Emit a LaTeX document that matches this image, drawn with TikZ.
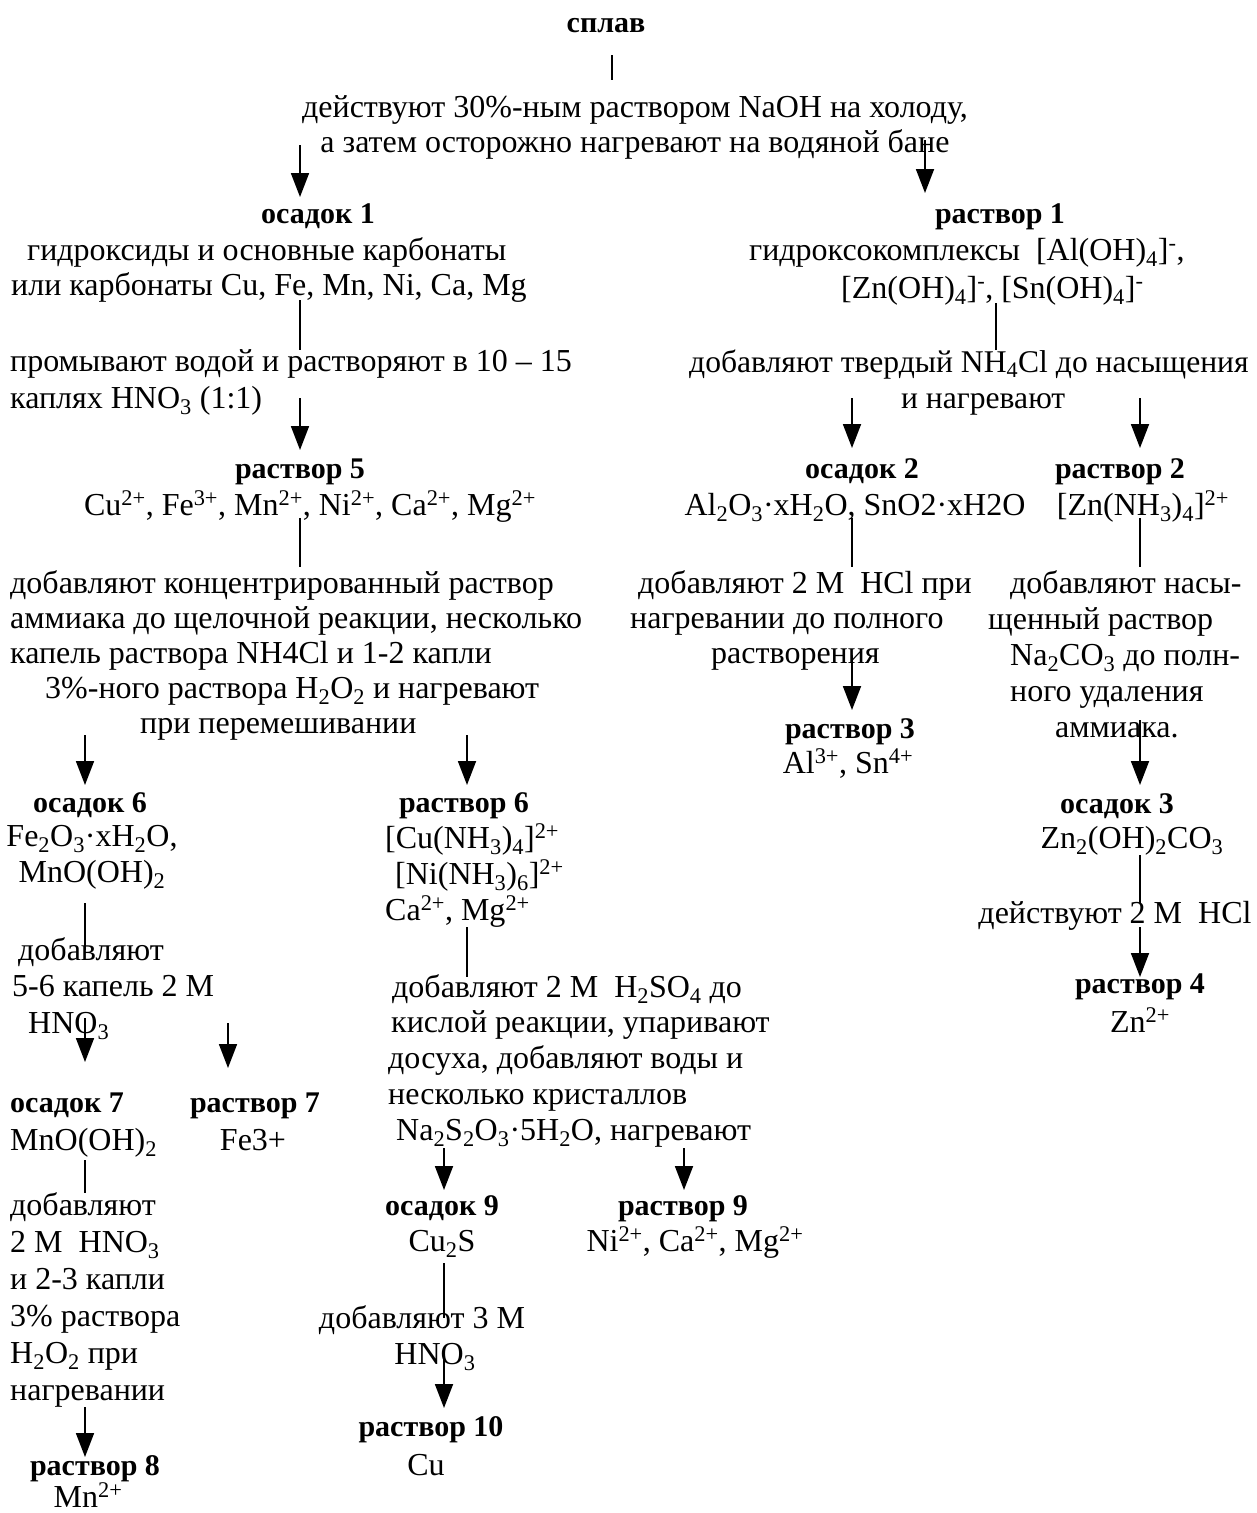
\documentclass[tikz,border=0pt]{standalone}
\usepackage{fontspec}
\setmainfont{Liberation Serif}
\usetikzlibrary{arrows.meta}
\newcommand{\ssub}[1]{\textsubscript{#1}}
\newcommand{\ssup}[1]{\textsuperscript{#1}}

\begin{document}
\begin{tikzpicture}[x=1pt,y=-1pt,
    every node/.style={inner sep=0pt,anchor=base,font=\fontsize{32}{35}\selectfont},
    head/.style={font=\fontsize{30}{35}\selectfont\bfseries},
    arr/.style={line width=1.8pt,-{Triangle[length=24pt,width=18pt]}},
    stem/.style={line width=1.8pt}]
  \useasboundingbox (0,0) rectangle (1256,1513);

  % columns of the connectors
  \coordinate (colL) at (85,0);
  \coordinate (colR7) at (228,0);
  \coordinate (colM) at (300,0);
  \coordinate (colS9) at (444,0);
  \coordinate (colR6) at (467,0);
  \coordinate (colTop) at (612,0);
  \coordinate (colR9) at (684,0);
  \coordinate (colO2) at (852,0);
  \coordinate (colR1) at (925,0);
  \coordinate (colR1t) at (996,0);
  \coordinate (colZn) at (1140,0);

  % top (multi-line nodes sit on their last line)
  \node[head] (splav) at (606,32) {сплав};
  \node[align=center] (t1) at (635,152) {действуют 30\%-ным раствором NaOH на холоду,\\
    а затем осторожно нагревают на водяной бане};

  % left branch
  \node[head] (os1) at (318,223) {осадок 1};
  \node[align=left,anchor=base west] (os1t) at (11,295) {\hspace*{16pt}гидроксиды и основные карбонаты\\
    или карбонаты Cu, Fe, Mn, Ni, Ca, Mg};
  \node[align=left,anchor=base west,font=\fontsize{32}{37}\selectfont] (step2) at (10,408) {промывают водой и растворяют в 10 – 15\\
    каплях HNO\ssub{3} (1:1)};
  \node[head] (r5) at (300,478) {раствор 5};
  \node (r5t) at (310,515) {Cu\ssup{2+}, Fe\ssup{3+}, Mn\ssup{2+}, Ni\ssup{2+}, Ca\ssup{2+}, Mg\ssup{2+}};
  \node[align=left,anchor=base west] (step4) at (10,733) {добавляют концентрированный раствор\\
    аммиака до щелочной реакции, несколько\\
    капель раствора NH4Cl и 1-2 капли\\
    \hspace*{35pt}3\%-ного раствора H\ssub{2}O\ssub{2} и нагревают\\
    \hspace*{130pt}при перемешивании};

  \node[head] (os6) at (90,812) {осадок 6};
  \node[align=center,font=\fontsize{32}{36}\selectfont] (os6t) at (92,882) {Fe\ssub{2}O\ssub{3}·xH\ssub{2}O,\\ MnO(OH)\ssub{2}};
  \node[align=left,anchor=base west,font=\fontsize{32}{36.5}\selectfont] (step8) at (12,1033) {\hspace*{6pt}добавляют\\
    5-6 капель 2 М\\
    \hspace*{16pt}HNO\ssub{3}};
  \node[head,anchor=base west] (os7) at (10,1112) {осадок 7};
  \node[anchor=base west] (os7t) at (10,1150) {MnO(OH)\ssub{2}};
  \node[head] (r7) at (255,1112) {раствор 7};
  \node (r7t) at (253,1150) {Fe3+};
  \node[align=left,anchor=base west,font=\fontsize{32}{37}\selectfont] (step10) at (10,1400) {добавляют\\
    2 М\ \ HNO\ssub{3}\\
    и 2-3 капли\\
    3\% раствора\\
    H\ssub{2}O\ssub{2} при\\
    нагревании};
  \node[head] (r8) at (95,1475) {раствор 8};
  \node (r8t) at (88,1507) {Mn\ssup{2+}};

  \node[head] (r6) at (464,812) {раствор 6};
  \node[align=left,anchor=base west,font=\fontsize{32}{36}\selectfont] (r6t) at (385,920) {[Cu(NH\ssub{3})\ssub{4}]\ssup{2+}\\
    \hspace*{10pt}[Ni(NH\ssub{3})\ssub{6}]\ssup{2+}\\
    Ca\ssup{2+}, Mg\ssup{2+}};
  \node[align=left,anchor=base west,font=\fontsize{32}{35.75}\selectfont] (step9) at (388,1140) {\hspace*{4pt}добавляют 2 М\ \ H\ssub{2}SO\ssub{4} до\\
    \hspace*{3pt}кислой реакции, упаривают\\
    досуха, добавляют воды и\\
    несколько кристаллов\\
    \hspace*{8pt}Na\ssub{2}S\ssub{2}O\ssub{3}·5H\ssub{2}O, нагревают};
  \node[head] (os9) at (442,1215) {осадок 9};
  \node (os9t) at (442,1251) {Cu\ssub{2}S};
  \node[head] (r9) at (683,1215) {раствор 9};
  \node (r9t) at (695,1251) {Ni\ssup{2+}, Ca\ssup{2+}, Mg\ssup{2+}};
  \node[align=center,font=\fontsize{32}{36}\selectfont] (step11) at (422,1364) {добавляют 3 М\\ \hspace*{26pt}HNO\ssub{3}};
  \node[head] (r10) at (431,1436) {раствор 10};
  \node (r10t) at (426,1475) {Cu};

  % right branch
  \node[head] (r1) at (1000,223) {раствор 1};
  \node[align=left,anchor=base west,font=\fontsize{32}{38}\selectfont] (r1t) at (749,298) {гидроксокомплексы\ \ [Al(OH)\ssub{4}]\ssup{-},\\
    \hspace*{92pt}[Zn(OH)\ssub{4}]\ssup{-}, [Sn(OH)\ssub{4}]\ssup{-}};
  \node[align=left,anchor=base west,font=\fontsize{31.6}{36}\selectfont] (step3) at (689,408) {добавляют твердый NH\ssub{4}Cl до насыщения\\
    \hspace*{212pt}и нагревают};
  \node[head] (os2) at (862,478) {осадок 2};
  \node (os2t) at (855,515) {Al\ssub{2}O\ssub{3}·xH\ssub{2}O, SnO2·xH2O};
  \node[align=left,anchor=base west] (step5) at (630,663) {\hspace*{8pt}добавляют 2 М\ \ HCl при\\
    нагревании до полного\\
    \hspace*{81pt}растворения};
  \node[head] (r3) at (850,738) {раствор 3};
  \node (r3t) at (848,773) {Al\ssup{3+}, Sn\ssup{4+}};
  \node[head] (r2) at (1120,478) {раствор 2};
  \node (r2t) at (1143,515) {[Zn(NH\ssub{3})\ssub{4}]\ssup{2+}};
  \node[align=left,anchor=base west,font=\fontsize{32}{36}\selectfont] (step6) at (988,737) {\hspace*{22pt}добавляют насы-\\
    щенный раствор\\
    \hspace*{22pt}Na\ssub{2}CO\ssub{3} до полн-\\
    \hspace*{22pt}ного удаления\\
    \hspace*{67pt}аммиака.};
  \node[head] (os3) at (1117,813) {осадок 3};
  \node (os3t) at (1132,848) {Zn\ssub{2}(OH)\ssub{2}CO\ssub{3}};
  \node (step7) at (1115,923) {действуют 2 М\ \ HCl};
  \node[head] (r4) at (1140,993) {раствор 4};
  \node (r4t) at (1140,1032) {Zn\ssup{2+}};

  % connectors
  \draw[stem,shorten <=23pt,shorten >=72pt] (splav.base -| colTop) -- (t1.base -| colTop);
  \draw[arr,shorten <=-7pt,shorten >=26pt] (t1.base -| colM) -- (os1.base -| colM);
  \draw[arr,shorten <=-12pt,shorten >=30pt] (t1.base -| colR1) -- (r1.base -| colR1);
  \draw[stem,shorten <=5pt,shorten >=58pt] (os1t.base -| colM) -- (step2.base -| colM);
  \draw[arr,shorten <=-10pt,shorten >=28pt] (step2.base -| colM) -- (r5.base -| colM);
  \draw[stem,shorten <=5pt,shorten >=58pt] (r1t.base -| colR1t) -- (step3.base -| colR1t);
  \draw[arr,shorten <=-10pt,shorten >=30pt] (step3.base -| colO2) -- (os2.base -| colO2);
  \draw[arr,shorten <=-10pt,shorten >=30pt] (step3.base -| colZn) -- (r2.base -| colZn);
  \draw[stem,shorten <=3pt,shorten >=166pt] (r5t.base -| colM) -- (step4.base -| colM);
  \draw[stem,shorten <=3pt,shorten >=96pt] (os2t.base -| colO2) -- (step5.base -| colO2);
  \draw[stem,shorten <=3pt,shorten >=170pt] (r2t.base -| colZn) -- (step6.base -| colZn);
  \draw[arr,shorten <=2pt,shorten >=27pt] (step4.base -| colL) -- (os6.base -| colL);
  \draw[arr,shorten <=2pt,shorten >=27pt] (step4.base -| colR6) -- (r6.base -| colR6);
  \draw[arr,shorten <=-8pt,shorten >=28pt] (step5.base -| colO2) -- (r3.base -| colO2);
  \draw[arr,shorten <=-17pt,shorten >=28pt] (step6.base -| colZn) -- (os3.base -| colZn);
  \draw[stem,shorten <=7pt,shorten >=20pt] (os3t.base -| colZn) -- (step7.base -| colZn);
  \draw[arr,shorten <=4pt,shorten >=16pt] (step7.base -| colZn) -- (r4.base -| colZn);
  \draw[stem,shorten <=21pt,shorten >=83pt] (os6t.base -| colL) -- (step8.base -| colL);
  \draw[arr,shorten <=-15pt,shorten >=50pt] (step8.base -| colL) -- (os7.base -| colL);
  \draw[arr,shorten <=-10pt,shorten >=44pt] (step8.base -| colR7) -- (r7.base -| colR7);
  \draw[stem,shorten <=7pt,shorten >=163pt] (r6t.base -| colR6) -- (step9.base -| colR6);
  \draw[stem,shorten <=10pt,shorten >=207pt] (os7t.base -| colL) -- (step10.base -| colL);
  \draw[arr,shorten <=7pt,shorten >=18pt] (step10.base -| colL) -- (r8.base -| colL);
  \draw[arr,shorten <=8pt,shorten >=25pt] (step9.base -| colS9) -- (os9.base -| colS9);
  \draw[arr,shorten <=8pt,shorten >=25pt] (step9.base -| colR9) -- (r9.base -| colR9);
  \draw[stem,shorten <=12pt,shorten >=46pt] (os9t.base -| colS9) -- (step11.base -| colS9);
  \draw[arr,shorten <=-9pt,shorten >=28pt] (step11.base -| colS9) -- (r10.base -| colS9);
\end{tikzpicture}
\end{document}
